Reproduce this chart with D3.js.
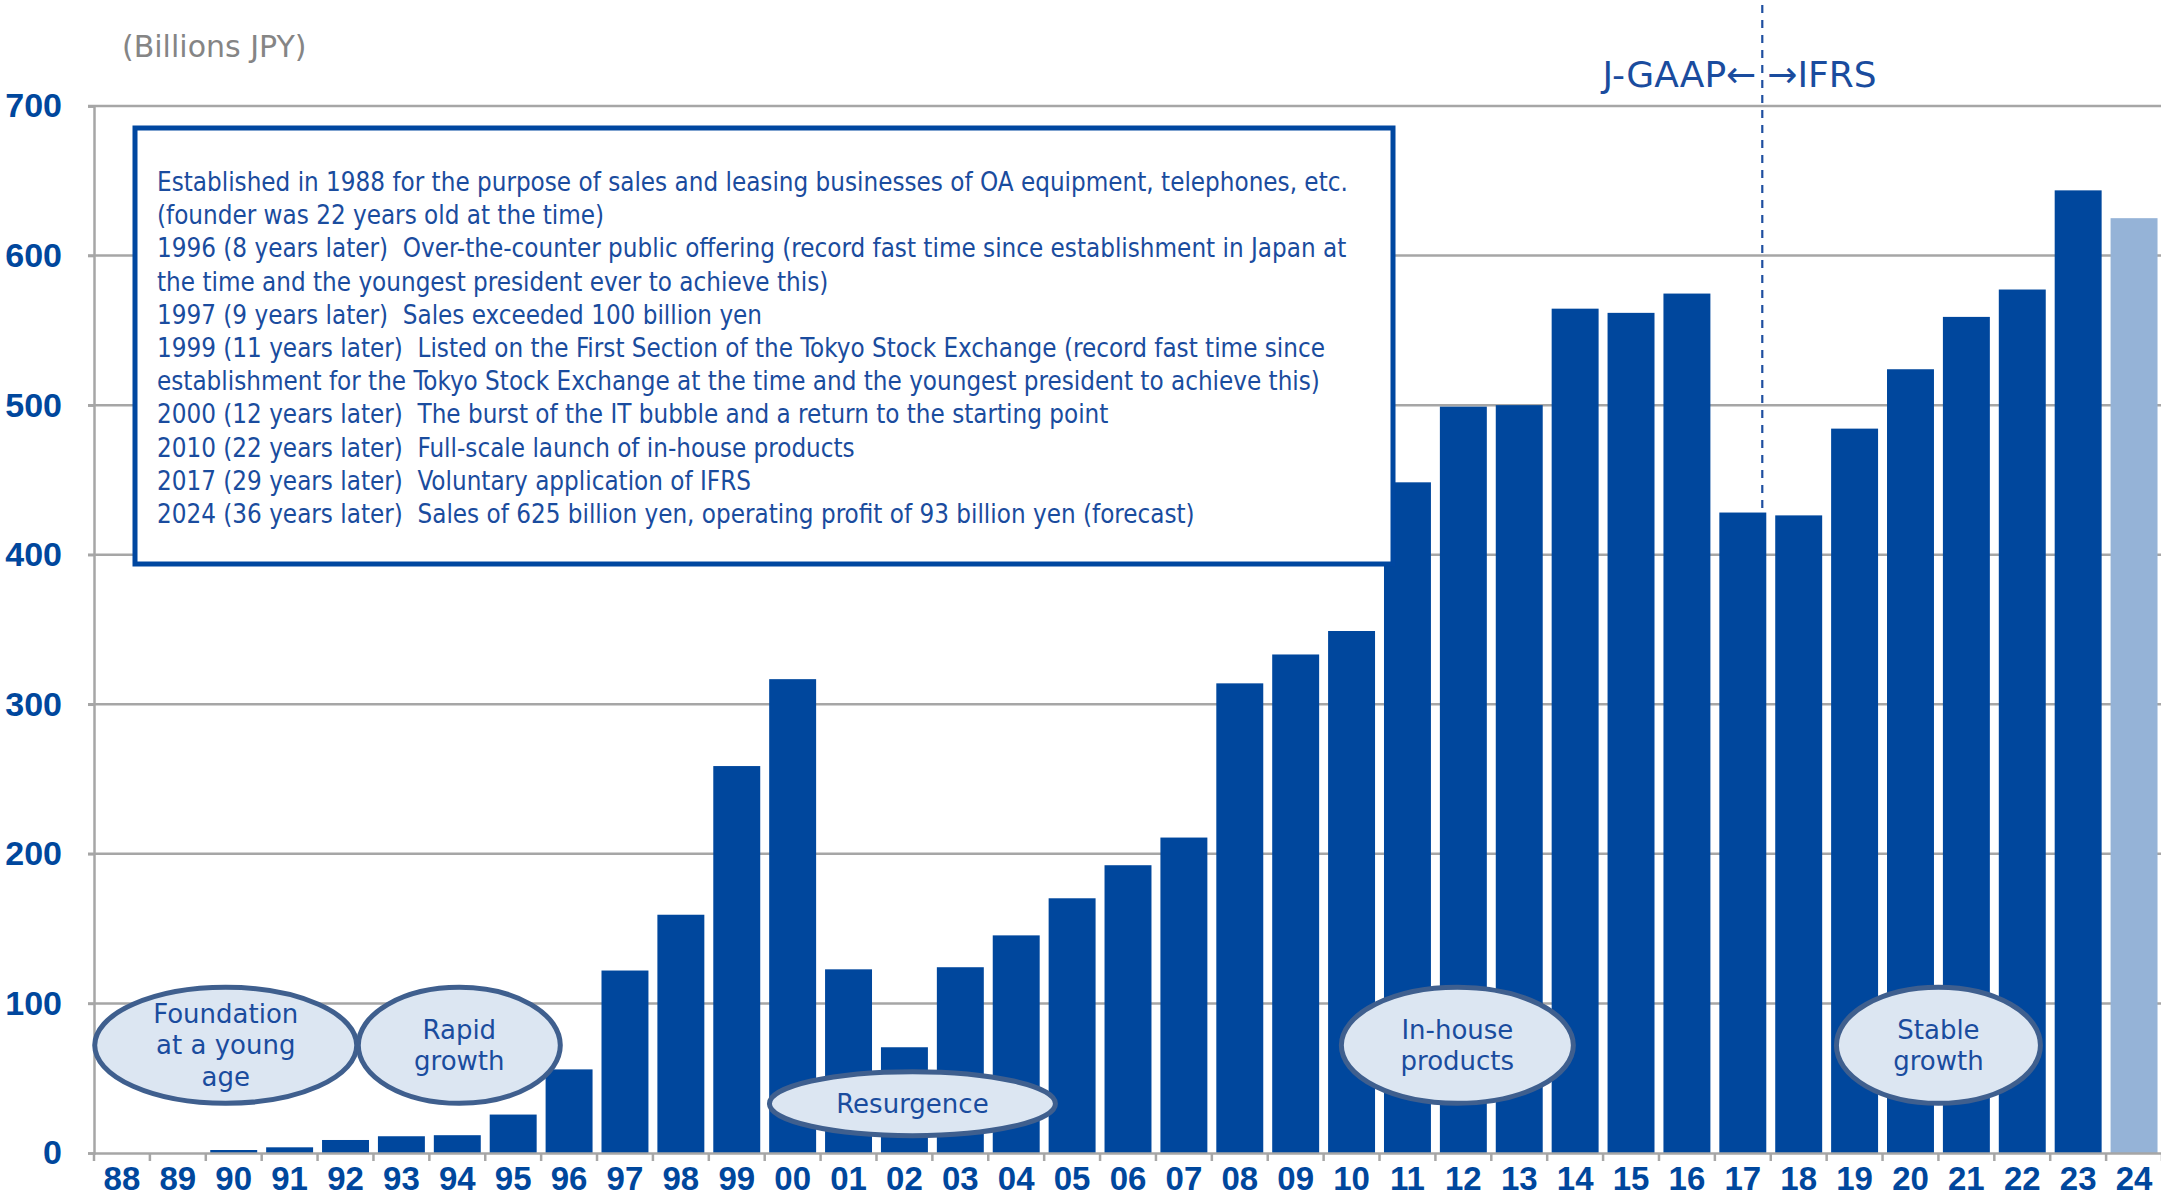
<!DOCTYPE html>
<html><head><meta charset="utf-8">
<script src="https://cdn.jsdelivr.net/npm/d3@7"></script>
<style>body{margin:0;background:#fff}svg{display:block}</style>
</head><body>
<svg id="chart" width="2161" height="1199"></svg>
<script>
// ---------- data ----------
const years = ["88","89","90","91","92","93","94","95","96","97","98","99","00","01","02","03","04","05","06","07","08","09","10","11","12","13","14","15","16","17","18","19","20","21","22","23","24"];
const sales = [0,0,2.0,3.8,8.7,11.2,11.9,25.7,55.9,122,159.3,258.7,316.8,122.8,70.7,124.2,145.5,170.3,192.4,210.9,314,333.3,349,448.4,499,500,564.5,561.7,574.6,428.2,426.3,484.3,524,559,577.3,643.6,625];
const forecastYears = ["24"];
const yTicks = [0,100,200,300,400,500,600,700];
const unitLabel = "(Billions JPY)";
const noteLines = [
  "Established in 1988 for the purpose of sales and leasing businesses of OA equipment, telephones, etc.",
  "(founder was 22 years old at the time)",
  "1996 (8 years later)  Over-the-counter public offering (record fast time since establishment in Japan at",
  "the time and the youngest president ever to achieve this)",
  "1997 (9 years later)  Sales exceeded 100 billion yen",
  "1999 (11 years later)  Listed on the First Section of the Tokyo Stock Exchange (record fast time since",
  "establishment for the Tokyo Stock Exchange at the time and the youngest president to achieve this)",
  "2000 (12 years later)  The burst of the IT bubble and a return to the starting point",
  "2010 (22 years later)  Full-scale launch of in-house products",
  "2017 (29 years later)  Voluntary application of IFRS",
  "2024 (36 years later)  Sales of 625 billion yen, operating profit of 93 billion yen (forecast)"
];
const phaseLabels = [["Foundation","at a young","age"],["Rapid","growth"],["Resurgence"],["In-house","products"],["Stable","growth"]];
const phaseYears = ["90","94","02","12","20"];
const phaseValues = [72,72,33,72,72];
const gaapLeft = "J-GAAP\u2190";
const gaapRight = "\u2192IFRS";
const changeYear = "17";

// ---------- layout ----------
const W = 2161, H = 1199;
const pLeft = 94, pRight = 2162, pTop = 106, pBottom = 1153;
const dark = "#00479D", light = "#95B3D7", textBlue = "#1A4C9E", grid = "#A6A6A6";
const condFont = "'DejaVu Sans Condensed','DejaVu Sans',Verdana,sans-serif";
const sansFont = "'DejaVu Sans',Verdana,sans-serif";
const tickFont = "'Liberation Sans Narrow','Arial Narrow','Liberation Sans',Arial,sans-serif";

const svg = d3.select("#chart");
const x = d3.scaleBand().domain(years).range([pLeft, pRight]).paddingInner(0.16).paddingOuter(0.08);
const y = d3.scaleLinear().domain([0, 700]).range([pBottom, pTop]);
const step = x.step();

// gridlines
svg.append("g").selectAll("line").data(yTicks.filter(d => d > 0)).join("line")
  .attr("x1", pLeft - 6).attr("x2", W).attr("y1", d => y(d)).attr("y2", d => y(d))
  .attr("stroke", grid).attr("stroke-width", 2.5);

// dashed J-GAAP / IFRS divider
const divX = x(changeYear) + x.bandwidth() - 4;
svg.append("line").attr("x1", divX).attr("x2", divX).attr("y1", 5).attr("y2", pBottom)
  .attr("stroke", "#1F4FA0").attr("stroke-width", 2.2).attr("stroke-dasharray", "8,7");

// bars
svg.append("g").selectAll("rect").data(years.map((c, i) => ({c, v: sales[i]}))).join("rect")
  .attr("x", d => x(d.c)).attr("width", x.bandwidth())
  .attr("y", d => y(d.v)).attr("height", d => y(0) - y(d.v))
  .attr("fill", d => forecastYears.includes(d.c) ? light : dark);

// y axis
const yAxis = svg.append("g").attr("transform", `translate(${pLeft},0)`)
  .call(d3.axisLeft(y).tickValues(yTicks).tickSize(6).tickPadding(26));
yAxis.select(".domain").attr("stroke", grid).attr("stroke-width", 2.5);
yAxis.selectAll(".tick line").attr("stroke", grid).attr("stroke-width", 2.5);
yAxis.selectAll(".tick text").attr("fill", dark).attr("font-family", tickFont)
  .attr("font-weight", "bold").attr("font-size", 34);

// x axis
const xAxis = svg.append("g").attr("transform", `translate(0,${pBottom})`)
  .call(d3.axisBottom(x).tickSize(0).tickPadding(14));
xAxis.select(".domain").attr("stroke", grid).attr("stroke-width", 2.5);
xAxis.selectAll(".tick text").attr("fill", dark).attr("font-family", tickFont)
  .attr("font-weight", "bold").attr("font-size", 33);
svg.append("g").selectAll("line").data(d3.range(years.length + 1)).join("line")
  .attr("x1", i => pLeft + i * step).attr("x2", i => pLeft + i * step)
  .attr("y1", pBottom).attr("y2", pBottom + 8)
  .attr("stroke", grid).attr("stroke-width", 2.5);

// unit label
svg.append("text").attr("x", 122).attr("y", 57).text(unitLabel)
  .attr("font-family", sansFont).attr("font-size", 30).attr("fill", "#858585");

// GAAP labels
svg.append("text").attr("x", divX - 6).attr("y", 87).attr("text-anchor", "end").text(gaapLeft)
  .attr("font-family", sansFont).attr("font-size", 36).attr("fill", textBlue);
svg.append("text").attr("x", divX + 5).attr("y", 87).text(gaapRight)
  .attr("font-family", sansFont).attr("font-size", 36).attr("fill", textBlue);

// note box
const box = {x: 135, y: 128, w: 1258, h: 436};
svg.append("rect").attr("x", box.x).attr("y", box.y).attr("width", box.w).attr("height", box.h)
  .attr("fill", "#fff").attr("stroke", "#0047A0").attr("stroke-width", 5);
const probe = svg.append("text").attr("font-family", condFont).attr("font-size", 22).text(noteLines[0]);
const pw = probe.node().getComputedTextLength();
probe.remove();
const fs = 22 * 1191 / pw;
svg.append("g").selectAll("text").data(noteLines).join("text")
  .attr("x", 157).attr("y", (d, i) => 182 + i * 33.2).attr("dy", "0.35em")
  .attr("font-family", condFont).attr("font-size", fs).attr("fill", textBlue)
  .attr("xml:space", "preserve").style("white-space", "pre").text(d => d);

// phase ellipses
const phaseGeom = [
  {dx: -8, rx: 131, ry: 58},
  {dx: 2, rx: 101, ry: 58},
  {dx: 8, rx: 143, ry: 32},
  {dx: -6, rx: 116, ry: 58},
  {dx: step / 2, rx: 102, ry: 58}
];
phaseLabels.forEach((lines, i) => {
  const g = phaseGeom[i];
  const cx = x(phaseYears[i]) + x.bandwidth() / 2 + g.dx;
  const cy = y(phaseValues[i]);
  svg.append("ellipse").attr("cx", cx).attr("cy", cy).attr("rx", g.rx).attr("ry", g.ry)
    .attr("fill", "#DCE6F2").attr("stroke", "#3F5F8E").attr("stroke-width", 5);
  const lh = 31.7;
  lines.forEach((t, j) => {
    svg.append("text").attr("x", cx).attr("y", cy + (j - (lines.length - 1) / 2) * lh)
      .attr("dy", "0.35em").attr("text-anchor", "middle").text(t)
      .attr("font-family", sansFont).attr("font-size", 26).attr("fill", textBlue);
  });
});
</script>
</body></html>
